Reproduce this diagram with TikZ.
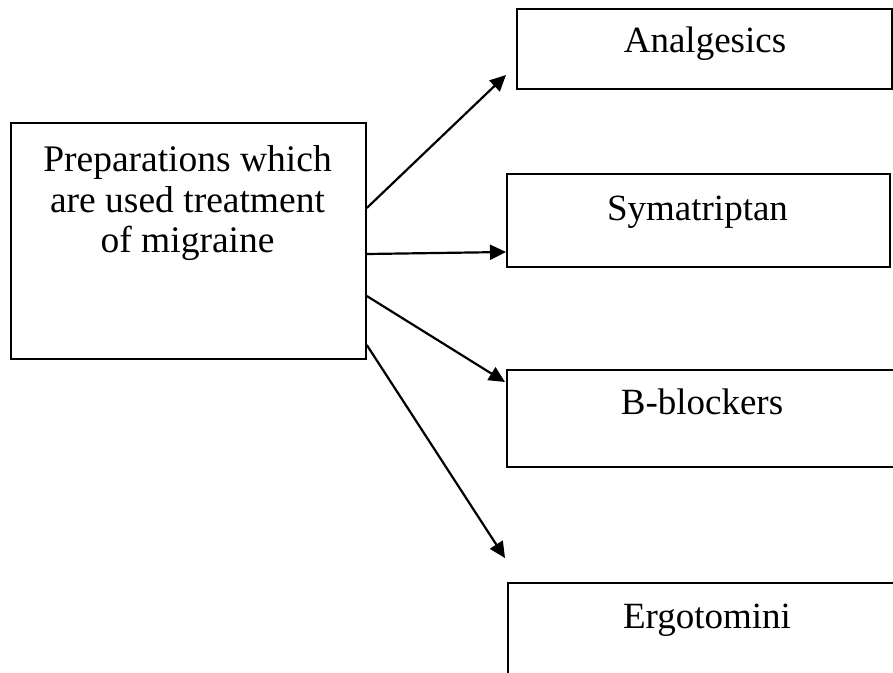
\documentclass[tikz,border=0pt]{standalone}
\usepackage{fontspec}
\setmainfont{Liberation Serif}
\usetikzlibrary{arrows.meta}

\tikzset{
  box/.style={draw=black, line width=1.8pt, rectangle, inner sep=0pt, anchor=north west},
  lbl/.style={anchor=base, inner sep=0pt, font=\fontsize{37}{37}\selectfont},
  biglbl/.style={lbl, font=\fontsize{37.5}{37.5}\selectfont},
  link/.style={line width=2.2pt, -{Triangle[length=16pt,width=15pt]}}
}

\begin{document}
\begin{tikzpicture}[x=1pt, y=-1pt]
  \useasboundingbox (0,0) rectangle (893,672);
  \clip (0,0) rectangle (893,672);

  % source box
  \node[box, minimum width=355pt, minimum height=236pt] (src) at (10,122) {};
  \node[biglbl] (srcA) at (187.5,171) {Preparations which};
  \node[biglbl] (srcB) at (187.5,212) {are used treatment};
  \node[biglbl] (srcC) at (187.5,252) {of migraine};

  % target boxes
  \node[box, minimum width=375pt, minimum height=80pt] (ana) at (516,8) {};
  \node[lbl] (anaT) at (705,52) {Analgesics};

  \node[box, minimum width=383pt, minimum height=93pt] (sym) at (506,173) {};
  \node[lbl] (symT) at (697.5,220) {Symatriptan};

  \node[box, minimum width=392pt, minimum height=97pt] (bb) at (506,369) {};
  \node[lbl] (bbT) at (702,414) {B-blockers};

  \node[box, minimum width=400pt, minimum height=120pt] (erg) at (507,582) {};
  \node[lbl] (ergT) at (707,628) {Ergotomini};

  % connector end points
  \path (src.north east) ++(0,86)  coordinate (s1);
  \path (src.north east) ++(0,132) coordinate (s2);
  \path (src.north east) ++(0,174) coordinate (s3);
  \path (src.north east) ++(0,223) coordinate (s4);

  \coordinate (t1) at (506,75);
  \path (sym.north west) ++(0,79)  coordinate (t2);
  \path (bb.north west)  ++(-1,13) coordinate (t3);
  \coordinate (t4) at (505,558);

  \draw[link] (s1) -- (t1);
  \draw[link] (s2) -- (t2);
  \draw[link] (s3) -- (t3);
  \draw[link] (s4) -- (t4);
\end{tikzpicture}
\end{document}
